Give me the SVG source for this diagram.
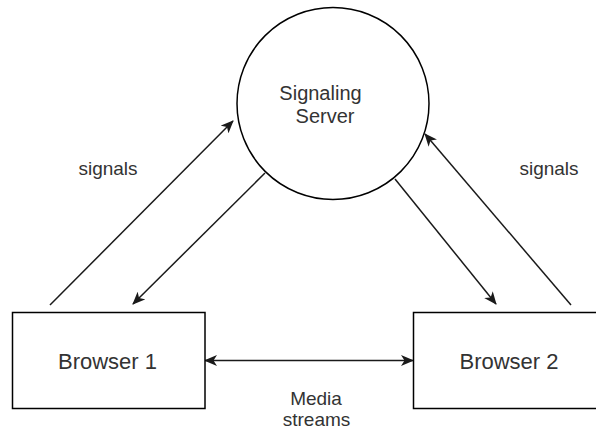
<svg xmlns="http://www.w3.org/2000/svg" width="596" height="430" viewBox="0 0 596 430">
  <style>
    .shape { fill: #ffffff; stroke: #000000; stroke-width: 1.5; }
    .edge { fill: none; stroke: #1a1a1a; stroke-width: 1.5; }
    .label { font-family: "Liberation Sans", Arial, sans-serif; fill: #333333; text-anchor: middle; }
  </style>
  <defs>
    <marker id="arrow" viewBox="0 0 13 11" refX="12" refY="5.5" markerWidth="13" markerHeight="11" markerUnits="userSpaceOnUse" orient="auto-start-reverse">
      <path d="M0,0 L13,5.5 L0,11 L3.5,5.5 Z" fill="#1a1a1a"/>
    </marker>
  </defs>
  <rect width="596" height="430" fill="#ffffff"/>

  <g id="connectors">
    <line class="edge" x1="50" y1="305" x2="233" y2="121" marker-end="url(#arrow)"/>
    <line class="edge" x1="265" y1="173" x2="133" y2="304" marker-end="url(#arrow)"/>
    <line class="edge" x1="395" y1="179" x2="496" y2="304" marker-end="url(#arrow)"/>
    <line class="edge" x1="571" y1="305" x2="425" y2="134" marker-end="url(#arrow)"/>
    <line class="edge" x1="205" y1="360.5" x2="413" y2="360.5" marker-start="url(#arrow)" marker-end="url(#arrow)"/>
  </g>

  <g id="server">
    <circle class="shape" cx="333" cy="103.5" r="96"/>
    <text class="label" font-size="20" x="320.5" y="100">Signaling</text>
    <text class="label" font-size="20" x="325" y="123">Server</text>
  </g>

  <g id="browser1">
    <rect class="shape" x="12.5" y="312.5" width="192.5" height="96"/>
    <text class="label" font-size="22" x="107.5" y="369">Browser 1</text>
  </g>

  <g id="browser2">
    <rect class="shape" x="413.5" y="312.5" width="192.5" height="96"/>
    <text class="label" font-size="22" x="509" y="369">Browser 2</text>
  </g>

  <g id="labels">
    <text class="label" font-size="19" x="108" y="175">signals</text>
    <text class="label" font-size="19" x="549" y="175">signals</text>
    <text class="label" font-size="19" x="316" y="405">Media</text>
    <text class="label" font-size="19" x="316.5" y="426">streams</text>
  </g>
</svg>
